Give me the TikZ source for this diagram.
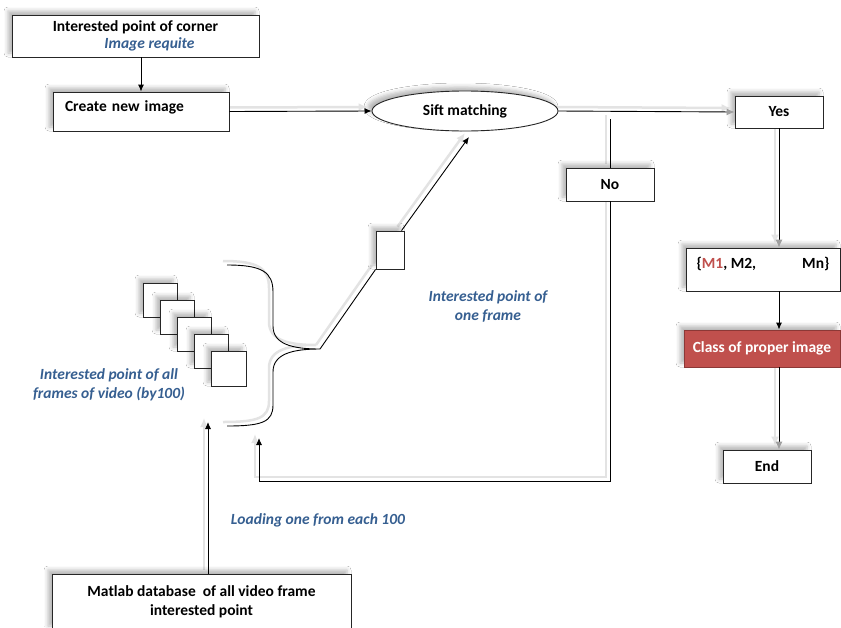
\documentclass[tikz,border=0pt]{standalone}
\usepackage{fontspec}
\setmainfont{Carlito}
\usetikzlibrary{arrows.meta,shapes.geometric,shadows.blur,calc}
\definecolor{ptblue}{RGB}{54,95,145}
\definecolor{cred}{RGB}{192,80,77}
\definecolor{cdark}{RGB}{140,56,54}
\pgfdeclarelayer{bg}
\pgfsetlayers{bg,main}
\begin{document}
\begin{tikzpicture}[x=1pt,y=-1pt,
  font=\fontsize{15.5}{18.5}\selectfont\bfseries,
  shade/.style={blur shadow={shadow xshift=-4pt,shadow yshift=4pt,shadow blur radius=4pt,shadow opacity=28}},
  box/.style={draw=black!85,line width=0.9pt,fill=white,inner sep=0pt,shade},
  note/.style={text=ptblue,font=\fontsize{15.5}{19}\selectfont\bfseries\itshape,align=center},
  link/.style={draw=black,line width=0.9pt},
  tip/.style={-{Latex[length=7pt,width=6pt]}},
  greytip/.style={-{Latex[length=8pt,width=7pt,color=gray!75]}},
  ghost/.style={draw=gray!22,line width=2.5pt,transform canvas={xshift=-4pt,yshift=4pt}},
  ghosttip/.style={-{Latex[length=9pt,width=8pt]}}]
\path[use as bounding box] (0,0) rectangle (841,627);
\clip (0,0) rectangle (841,627);

% process boxes
\node[box,minimum width=247,minimum height=42,align=center] (corner) at (135.5,36)
  {Interested point of corner\\[-1pt]\hspace*{28pt}\textcolor{ptblue}{\itshape Image requite}};
\node[box,minimum width=176,minimum height=39,text width=152,align=left,text depth=10pt] (create) at (141,111.5) {Create new image};
\node[box,ellipse,minimum width=186,minimum height=40] (sift) at (465,111) {Sift matching};
\node[box,minimum width=88,minimum height=32] (yes) at (779,112) {Yes};
\node[box,minimum width=88,minimum height=33] (no) at (610,184.5) {No};
\node[box,minimum width=154,minimum height=43,text depth=14pt] (mset) at (763,269.5)
  {\{\textcolor{cred}{M1}, M2,\hspace{46pt}Mn\}};
\node[box,fill=cred,draw=cdark,text=white,minimum width=156,minimum height=37] (cls) at (762,348.5) {Class of proper image};
\node[box,minimum width=88,minimum height=33] (fin) at (767,466.5) {End};
\node[box,minimum width=299,minimum height=56,align=center] (db) at (201.5,602)
  {Matlab database\ \ of all video frame\\interested point};

% stack of frames and the single frame
\foreach \i in {0,...,3}
  \node[box,minimum size=34] (f\i) at (160+17*\i,300+17*\i) {};
\node[box,minimum size=35] (f4) at (228.5,368.5) {};
\node[box,minimum width=28,minimum height=38] (one) at (390,250) {};

% free ends of connectors
\coordinate (nstart) at (610,119);
\coordinate (loopc) at (259,481);
\coordinate (back) at (259,438);
\coordinate (btip) at (320,349);
\coordinate (siftin) at (469,137);
\coordinate (dbtip) at (208,422);
\coordinate (onetop) at ($(one.north west)!0.9!(one.north east)$);

% labels
\node[note] (onef) at (488,306) {Interested point of\\one frame};
\node[note] (allf) at (109,385) {Interested point of all\\frames of video (by100)};
\node[note] (load) at (318,520) {Loading one from each 100};

% white page and light doubled lines behind the connectors
\begin{pgfonlayer}{bg}
\fill[white] (0,0) rectangle (841,627);
\draw[ghost,ghosttip] (create.east) -- (sift.west);
\draw[ghost,ghosttip] (sift.east) -- (yes.west);
\draw[ghost] (nstart) -- (no.north);
\draw[ghost,ghosttip] (no.south) |- (loopc) -- (back);
\draw[ghost,ghosttip] (yes.south) -- (yes.south |- mset.north);
\draw[ghost,ghosttip] (yes.south |- cls.south) -- (yes.south |- fin.north);
\draw[ghost] (btip) -- (one.south west);
\draw[ghost,ghosttip] (onetop) -- (siftin);
\draw[ghost,ghosttip] (dbtip |- db.north) -- (dbtip);
\draw[ghost] (227,265) .. controls (262,265) and (273,272) .. (273,292) -- (273,326)
  .. controls (273,344) and (292,349) .. (btip)
  .. controls (292,349) and (273,354) .. (273,372) -- (273,405)
  .. controls (273,422) and (262,426) .. (227,426);
\end{pgfonlayer}

% connectors
\draw[link,tip] (create.north |- corner.south) -- (create.north);
\draw[link,tip] (create.east) -- (sift.west);
\draw[link,greytip] (sift.east) -- (yes.west);
\draw[link] (nstart) -- (no.north);
\draw[link,tip] (no.south) |- (loopc) -- (back);
\draw[link,greytip] (yes.south) -- (yes.south |- mset.north);
\draw[link,tip] (yes.south |- mset.south) -- (yes.south |- cls.north);
\draw[link,greytip] (yes.south |- cls.south) -- (yes.south |- fin.north);
\draw[link] (btip) -- (one.south west);
\draw[link,tip] (onetop) -- (siftin);
\draw[link,tip] (dbtip |- db.north) -- (dbtip);

% brace gathering the frames
\draw[link] (227,265) .. controls (262,265) and (273,272) .. (273,292) -- (273,326)
  .. controls (273,344) and (292,349) .. (btip)
  .. controls (292,349) and (273,354) .. (273,372) -- (273,405)
  .. controls (273,422) and (262,426) .. (227,426);
\end{tikzpicture}
\end{document}
